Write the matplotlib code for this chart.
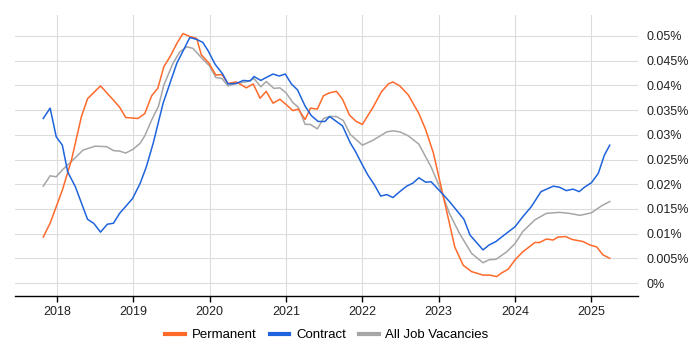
import matplotlib
matplotlib.use("Agg")
import matplotlib.pyplot as plt
from matplotlib.ticker import FuncFormatter

plt.rcParams['font.family'] = ['Liberation Sans', 'DejaVu Sans']

# ---- data (decimal year, percent) ----
perm_x = [2017.82, 2017.91, 2018.07, 2018.19, 2018.32, 2018.40, 2018.57, 2018.74, 2018.82, 2018.90,
          2019.06, 2019.15, 2019.24, 2019.32, 2019.40, 2019.48, 2019.57, 2019.65, 2019.74, 2019.83,
          2019.89, 2019.99, 2020.08, 2020.16, 2020.24, 2020.35, 2020.48, 2020.57, 2020.66, 2020.74,
          2020.83, 2020.92, 2021.01, 2021.09, 2021.16, 2021.25, 2021.32, 2021.41, 2021.49, 2021.57,
          2021.66, 2021.74, 2021.83, 2021.92, 2022.00, 2022.14, 2022.25, 2022.34, 2022.40, 2022.49,
          2022.60, 2022.74, 2022.83, 2022.93, 2023.01, 2023.10, 2023.21, 2023.32, 2023.43, 2023.58,
          2023.67, 2023.76, 2023.82, 2023.91, 2024.00, 2024.10, 2024.26, 2024.32, 2024.41, 2024.50,
          2024.56, 2024.66, 2024.75, 2024.89, 2024.98, 2025.07, 2025.15, 2025.24]
perm_y = [0.0093, 0.0121, 0.0188, 0.0249, 0.0337, 0.0373, 0.0399, 0.0370, 0.0356, 0.0335,
          0.0333, 0.0343, 0.0379, 0.0394, 0.0438, 0.0458, 0.0485, 0.0505, 0.0499, 0.0495,
          0.0462, 0.0445, 0.0421, 0.0422, 0.0404, 0.0407, 0.0395, 0.0403, 0.0374, 0.0388,
          0.0364, 0.0372, 0.0360, 0.0349, 0.0352, 0.0331, 0.0354, 0.0352, 0.0379, 0.0385,
          0.0388, 0.0372, 0.0340, 0.0327, 0.0321, 0.0356, 0.0387, 0.0403, 0.0407, 0.0399,
          0.0381, 0.0343, 0.0310, 0.0263, 0.0209, 0.0148, 0.0073, 0.0036, 0.0023, 0.0016,
          0.0016, 0.0013, 0.0020, 0.0028, 0.0047, 0.0063, 0.0082, 0.0082, 0.0089, 0.0087,
          0.0093, 0.0094, 0.0088, 0.0084, 0.0077, 0.0073, 0.0057, 0.0050]

contract_x = [2017.82, 2017.91, 2017.99, 2018.07, 2018.14, 2018.24, 2018.40, 2018.48, 2018.57, 2018.66,
              2018.74, 2018.82, 2018.99, 2019.09, 2019.17, 2019.26, 2019.39, 2019.57, 2019.74, 2019.83,
              2019.91, 2019.98, 2020.07, 2020.17, 2020.24, 2020.35, 2020.44, 2020.53, 2020.58, 2020.67,
              2020.74, 2020.83, 2020.91, 2020.99, 2021.07, 2021.15, 2021.25, 2021.33, 2021.42, 2021.51,
              2021.57, 2021.66, 2021.74, 2021.84, 2021.91, 2021.99, 2022.07, 2022.16, 2022.24, 2022.32,
              2022.40, 2022.49, 2022.58, 2022.66, 2022.74, 2022.83, 2022.90, 2023.04, 2023.14, 2023.33,
              2023.41, 2023.58, 2023.66, 2023.75, 2023.84, 2024.00, 2024.10, 2024.21, 2024.34, 2024.50,
              2024.58, 2024.67, 2024.76, 2024.84, 2024.91, 2025.00, 2025.09, 2025.17, 2025.24]
contract_y = [0.0333, 0.0354, 0.0296, 0.0279, 0.0225, 0.0195, 0.0129, 0.0121, 0.0103, 0.0119,
              0.0121, 0.0141, 0.0171, 0.0202, 0.0235, 0.0283, 0.0364, 0.0445, 0.0497, 0.0493,
              0.0487, 0.0470, 0.0443, 0.0423, 0.0403, 0.0404, 0.0410, 0.0409, 0.0418, 0.0410,
              0.0416, 0.0423, 0.0419, 0.0423, 0.0403, 0.0391, 0.0358, 0.0339, 0.0327, 0.0327,
              0.0337, 0.0327, 0.0318, 0.0284, 0.0266, 0.0242, 0.0219, 0.0198, 0.0176, 0.0179,
              0.0173, 0.0185, 0.0196, 0.0202, 0.0213, 0.0204, 0.0205, 0.0182, 0.0165, 0.0129,
              0.0097, 0.0067, 0.0077, 0.0084, 0.0095, 0.0114, 0.0134, 0.0154, 0.0185, 0.0196,
              0.0194, 0.0187, 0.0190, 0.0185, 0.0194, 0.0203, 0.0222, 0.0259, 0.0279]

all_x = [2017.82, 2017.91, 2017.99, 2018.07, 2018.21, 2018.34, 2018.50, 2018.65, 2018.74, 2018.82,
         2018.90, 2019.00, 2019.09, 2019.15, 2019.24, 2019.33, 2019.40, 2019.52, 2019.61, 2019.70,
         2019.78, 2019.91, 2020.00, 2020.08, 2020.16, 2020.24, 2020.35, 2020.50, 2020.58, 2020.67,
         2020.74, 2020.84, 2020.92, 2021.00, 2021.09, 2021.16, 2021.25, 2021.32, 2021.41, 2021.49,
         2021.57, 2021.66, 2021.75, 2021.84, 2022.00, 2022.14, 2022.32, 2022.40, 2022.49, 2022.60,
         2022.74, 2022.90, 2023.01, 2023.14, 2023.27, 2023.43, 2023.58, 2023.66, 2023.75, 2023.89,
         2024.00, 2024.10, 2024.26, 2024.41, 2024.58, 2024.71, 2024.85, 2025.00, 2025.13, 2025.24]
all_y = [0.0196, 0.0217, 0.0215, 0.0229, 0.0249, 0.0269, 0.0277, 0.0276, 0.0268, 0.0267,
         0.0263, 0.0271, 0.0283, 0.0298, 0.0330, 0.0358, 0.0401, 0.0445, 0.0468, 0.0478,
         0.0475, 0.0453, 0.0439, 0.0416, 0.0414, 0.0399, 0.0404, 0.0408, 0.0414, 0.0397,
         0.0408, 0.0394, 0.0395, 0.0385, 0.0365, 0.0356, 0.0321, 0.0321, 0.0312, 0.0333,
         0.0337, 0.0337, 0.0329, 0.0301, 0.0279, 0.0289, 0.0306, 0.0308, 0.0306, 0.0298,
         0.0281, 0.0235, 0.0195, 0.0141, 0.0101, 0.0060, 0.0041, 0.0047, 0.0048, 0.0063,
         0.0080, 0.0104, 0.0128, 0.0141, 0.0143, 0.0141, 0.0137, 0.0142, 0.0156, 0.0165]

years = [2018, 2019, 2020, 2021, 2022, 2023, 2024, 2025]
ytick_vals = [0, 0.005, 0.01, 0.015, 0.02, 0.025, 0.03, 0.035, 0.04, 0.045, 0.05]
series_names = ["Permanent", "Contract", "All Job Vacancies"]

# ---- styling ----
c_perm = "#ff6a2b"
c_con = "#1f64dc"
c_all = "#a6a6a6"

fig = plt.figure(figsize=(7, 3.5), dpi=100)
ax = fig.add_axes([15 / 700, 1 - 296 / 350, (638 - 15) / 700, (296 - 15) / 350])

ax.plot(perm_x, perm_y, color=c_perm, lw=1.1, label=series_names[0], zorder=3)
ax.plot(contract_x, contract_y, color=c_con, lw=1.1, label=series_names[1], zorder=3)
ax.plot(all_x, all_y, color=c_all, lw=1.1, label=series_names[2], zorder=2)

ax.set_xlim(2017.45, 2025.61)
ax.set_ylim(-0.00263, 0.05425)

ax.set_xticks(years)
ax.set_xticklabels([str(y) for y in years], fontsize=9, color="#222222")
ax.set_yticks(ytick_vals)

def fmt(v, pos):
    return ("%g" % v) + "%"

ax.yaxis.set_major_formatter(FuncFormatter(fmt))
ax.yaxis.tick_right()
ax.tick_params(axis="y", length=0, pad=6, labelsize=9, labelcolor="#222222")
ax.tick_params(axis="x", length=4, width=1, color="#000000", pad=3)

ax.grid(True, color="#dcdcdc", lw=0.8, zorder=0)
ax.set_axisbelow(True)
for s in ["top", "left", "right"]:
    ax.spines[s].set_visible(False)
ax.spines["bottom"].set_color("#000000")
ax.spines["bottom"].set_linewidth(1.0)

leg = fig.legend(loc="center", bbox_to_anchor=(0.467, 1 - 335 / 350), ncol=3, frameon=False,
                 fontsize=9.5, handlelength=1.5, handletextpad=0.5, columnspacing=1.0)
for h, c in zip(leg.get_lines(), [c_perm, c_con, c_all]):
    h.set_linewidth(3)
    h.set_color(c)

fig.savefig("out.png", dpi=100)
